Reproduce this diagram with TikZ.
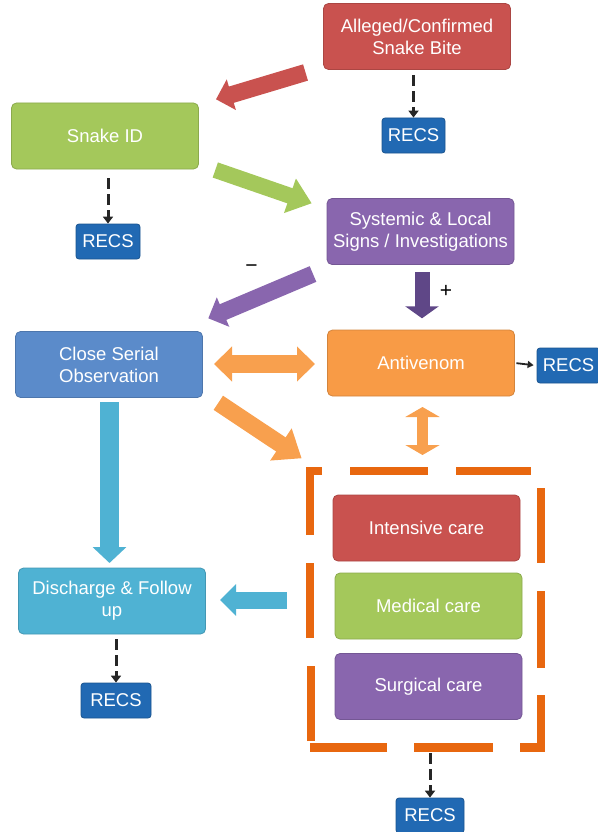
\documentclass[tikz,border=0pt]{standalone}
\usepackage{fontspec}
\setmainfont{Liberation Sans}
\usetikzlibrary{arrows.meta}
\definecolor{cred}{HTML}{C9524F}
\definecolor{cgreen}{HTML}{A4C85B}
\definecolor{cpurple}{HTML}{8966AE}
\definecolor{cdpurple}{HTML}{5F4787}
\definecolor{cblue}{HTML}{5B8BCA}
\definecolor{corange}{HTML}{F89B46}
\definecolor{carrorange}{HTML}{F8A04E}
\definecolor{ccyan}{HTML}{4FB2D3}
\definecolor{crecs}{HTML}{2169B3}
\definecolor{cframe}{HTML}{E8670F}
\tikzset{
  box/.style={rounded corners=5pt, minimum width=187pt, minimum height=66pt,
    inner sep=0pt, align=center, text=white, line width=0.8pt,
    font=\fontsize{18.5}{22}\selectfont},
  recs/.style={rounded corners=3pt, fill=crecs, draw=crecs!80!black,
    minimum width=64pt, minimum height=35pt, inner sep=0pt, text=white,
    line width=0.8pt, font=\fontsize{18.5}{22}\selectfont},
  dasharrow/.style={draw=black!85, line width=3pt, dash pattern=on 11pt off 5pt,
    -{Triangle[length=7pt,width=10pt]}},
  bigarrow/.style n args={4}{draw=#1, line width=#2,
    -{Triangle[length=#4,width=#3]}},
  bigdouble/.style n args={4}{draw=#1, line width=#2,
    {Triangle[length=#4,width=#3]}-{Triangle[length=#4,width=#3]}},
  frame/.style={draw=cframe, line width=8.5pt, line cap=butt, line join=miter},
  sign/.style={text=black, font=\fontsize{21}{22}\selectfont}
}
\begin{document}
\begin{tikzpicture}[x=1pt, y=-1pt]
\useasboundingbox (0,0) rectangle (597,832);

% boxes
\node[box, fill=cred, draw=cred!85!black] (bite) at (417,36.5) {Alleged/Confirmed\\Snake Bite};
\node[recs, minimum width=63pt] (r1) at (413.5,135.5) {RECS};
\node[box, fill=cgreen, draw=cgreen!85!black] (id) at (105,136) {Snake ID};
\node[recs] (r2) at (108,241.5) {RECS};
\node[box, fill=cpurple, draw=cpurple!85!black] (sys) at (420.5,231.5) {Systemic \& Local\\Signs / Investigations};
\node[box, fill=cblue, draw=cblue!85!black] (obs) at (109,364.5) {Close Serial\\Observation};
\node[box, fill=corange, draw=corange!85!black] (av) at (421,363) {Antivenom};
\node[recs, minimum width=63pt] (r3) at (568.5,365.5) {RECS};
\node[box, fill=cred, draw=cred!85!black] (ic) at (426.5,528) {Intensive care};
\node[box, fill=cgreen, draw=cgreen!85!black] (mc) at (428.5,606) {Medical care};
\node[box, fill=cpurple, draw=cpurple!85!black] (sc) at (428.5,686.5) {Surgical care};
\node[box, fill=ccyan, draw=ccyan!85!black] (dis) at (112,601) {Discharge \& Follow\\up};
\node[recs, minimum width=70pt] (r4) at (116,700.5) {RECS};
\node[recs, minimum width=68pt] (r5) at (430,815.5) {RECS};

% dashed frame
\draw[frame] (310,535) -- (310,471) -- (322,471);
\draw[frame] (350,471) -- (428,471);
\draw[frame] (456,471) -- (531,471);
\draw[frame] (541,488) -- (541,563);
\draw[frame] (541,591) -- (541,668);
\draw[frame] (541,695) -- (541,747.5) -- (520,747.5);
\draw[frame] (493,747.5) -- (414,747.5);
\draw[frame] (387,747.5) -- (310,747.5);
\draw[frame] (311,741) -- (311,666);
\draw[frame] (310,638) -- (310,563);
\coordinate (framebot) at (430,753);

% dashed connectors to RECS
\draw[dasharrow, shorten <=5pt] (r1.north |- bite.south) -- (r1.north);
\draw[dasharrow, shorten <=9pt] (r2.north |- id.south) -- (r2.north);
\draw[dasharrow, shorten <=5pt] (r4.north |- dis.south) -- (r4.north);
\draw[dasharrow] (framebot) -- (r5.north);
\draw[line width=1.8pt, black!85, -{Triangle[length=6pt,width=7pt]}, shorten <=1.5pt, shorten >=3pt] (av.east) -- (r3.west);

% block arrows
\coordinate (a1s) at (305.5,72.5);  \coordinate (a1e) at (216,99.3);
\coordinate (a2s) at (215.3,170);   \coordinate (a2e) at (311.7,203.3);
\coordinate (a3s) at (313,274);     \coordinate (a3e) at (208.3,318.3);
\coordinate (a4s) at (422,272);     \coordinate (a4e) at (422,318.3);
\coordinate (a5s) at (214,364);     \coordinate (a5e) at (315,364);
\coordinate (a6s) at (218.3,402.8); \coordinate (a6e) at (301.7,458.3);
\coordinate (a7s) at (422.5,407);   \coordinate (a7e) at (422.5,455);
\coordinate (a8s) at (109.5,402);   \coordinate (a8e) at (109.5,563);
\coordinate (a9s) at (287,600);     \coordinate (a9e) at (220,600);

\draw[bigarrow={cred}{17pt}{31pt}{16pt}] (a1s) -- (a1e);
\draw[bigarrow={cgreen}{16pt}{35pt}{23pt}] (a2s) -- (a2e);
\draw[bigarrow={cpurple}{17pt}{31pt}{16pt}] (a3s) -- (a3e);
\draw[bigarrow={cdpurple}{15pt}{33pt}{12pt}] (a4s) -- (a4e);
\draw[bigdouble={carrorange}{18pt}{34pt}{18pt}] (a5s) -- (a5e);
\draw[bigarrow={carrorange}{17pt}{37pt}{25pt}] (a6s) -- (a6e);
\draw[bigdouble={carrorange}{11.5pt}{34pt}{10pt}] (a7s) -- (a7e);
\draw[bigarrow={ccyan}{19pt}{33pt}{16pt}] (a8s) -- (a8e);
\draw[bigarrow={ccyan}{17pt}{31pt}{16pt}] (a9s) -- (a9e);

% signs
\node[sign] (minus) at (251.5,269) {−};
\node[sign] (plus) at (446,291) {+};
\end{tikzpicture}
\end{document}
